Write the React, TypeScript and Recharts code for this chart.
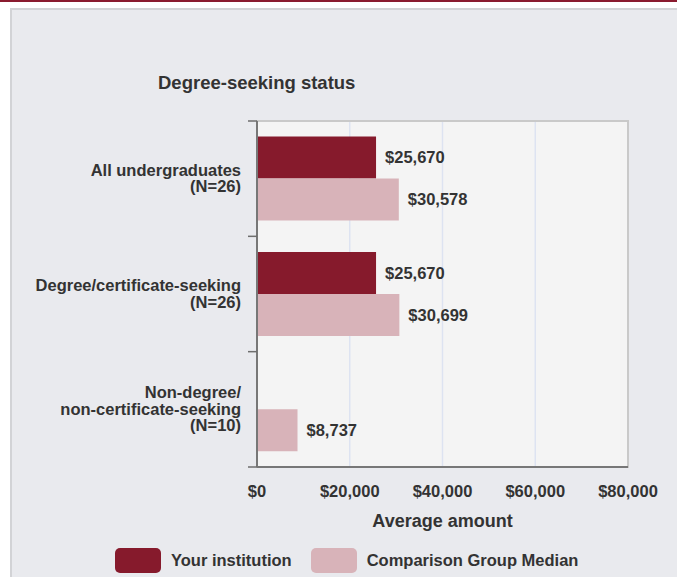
import { BarChart, Bar, XAxis, YAxis, CartesianGrid, LabelList, ReferenceArea } from "recharts";

const categories = ["All undergraduates", "Degree/certificate-seeking", "Non-degree/\nnon-certificate-seeking"];
const groupSizes = [26, 26, 10];
const yourInstitution = [25670, 25670, null];
const comparisonMedian = [30578, 30699, 8737];
const xTicks = [0, 20000, 40000, 60000, 80000];

const DARK = "#861a2c";
const PINK = "#d8b3b9";
const TEXT = "#333333";
const FONT = '"Liberation Sans", Arial, Helvetica, sans-serif';
const FS = 16.5;
const LINE = 16.5;

const legendItems = [
  { name: "Your institution", color: DARK },
  { name: "Comparison Group Median", color: PINK },
];

const data = categories.map((c, i) => ({
  label: `${c}\n(N=${groupSizes[i]})`,
  yours: yourInstitution[i],
  median: comparisonMedian[i],
}));

const money = (v: any) => (v == null ? "" : `$${Number(v).toLocaleString("en-US")}`);

function CategoryTick(props: any) {
  const { x, y, payload, index, visibleTicksCount } = props;
  const lines = String(payload.value).split("\n");
  const half = payload.offset ?? 0;
  const edge = x + 16;
  const last = (visibleTicksCount ?? data.length) - 1;
  return (
    <g>
      <line x1={edge - 9} x2={edge} y1={y - half} y2={y - half} stroke="#6e6e6e" strokeWidth={1.5} />
      {index === last && (
        <line x1={edge - 9} x2={edge} y1={y + half} y2={y + half} stroke="#6e6e6e" strokeWidth={1.5} />
      )}
      <text x={x} y={y} textAnchor="end" fill={TEXT} fontSize={FS} fontWeight={700}>
        {lines.map((l, i) => (
          <tspan key={i} x={x} dy={i === 0 ? -((lines.length - 1) / 2) * LINE + 5.5 : LINE}>
            {l}
          </tspan>
        ))}
      </text>
    </g>
  );
}

export default function App() {
  return (
    <div style={{ position: "relative", width: 677, height: 577, overflow: "hidden", fontFamily: FONT, background: "#fff" }}>
      <style>{`body{margin:0;}`}</style>
      <div style={{ position: "absolute", left: 0, top: 0, width: 677, height: 2, background: "#8a1b2f" }} />
      <div
        style={{
          position: "absolute",
          left: 10,
          top: 8,
          width: 700,
          height: 600,
          background: "#e9eaee",
          borderLeft: "2px solid #d2d3d6",
          borderTop: "2px solid #d2d3d6",
        }}
      />
      <div
        style={{
          position: "absolute",
          left: 158,
          top: 74,
          fontSize: 18.5,
          lineHeight: "18px",
          fontWeight: 700,
          color: TEXT,
          whiteSpace: "nowrap",
        }}
      >
        Degree-seeking status
      </div>
      <div style={{ position: "absolute", left: 0, top: 0 }}>
        <BarChart
          width={677}
          height={577}
          data={data}
          layout="vertical"
          margin={{ top: 121, right: 49, bottom: 50, left: 0 }}
          barCategoryGap="13.5%"
          barGap={0}
        >
          <CartesianGrid horizontal={false} stroke="#dde3f1" strokeWidth={1.5} fill="#f4f4f4" />
          <ReferenceArea x1={0} x2={80000} fill="none" stroke="#c9c9c9" strokeWidth={2} />
          <XAxis
            type="number"
            domain={[0, 80000]}
            ticks={xTicks}
            tickFormatter={money}
            tickLine={false}
            tickSize={0}
            tickMargin={18}
            axisLine={{ stroke: "#777", strokeWidth: 2 }}
            tick={{ fill: TEXT, fontSize: FS, fontWeight: 700 }}
            height={60}
            label={{ value: "Average amount", position: "insideBottom", offset: 0, fill: TEXT, fontSize: 18, fontWeight: 700 }}
          />
          <YAxis
            type="category"
            dataKey="label"
            width={257}
            tickLine={false}
            tickSize={0}
            tickMargin={16}
            axisLine={{ stroke: "#777", strokeWidth: 2 }}
            tick={<CategoryTick />}
            interval={0}
          />
          <Bar dataKey="yours" fill={DARK} isAnimationActive={false}>
            <LabelList dataKey="yours" position="right" offset={9} formatter={money} fill={TEXT} fontSize={FS} fontWeight={700} />
          </Bar>
          <Bar dataKey="median" fill={PINK} isAnimationActive={false}>
            <LabelList dataKey="median" position="right" offset={9} formatter={money} fill={TEXT} fontSize={FS} fontWeight={700} />
          </Bar>
        </BarChart>
      </div>
      <div style={{ position: "absolute", left: 115, top: 548, display: "flex", alignItems: "center" }}>
        {legendItems.map((it, i) => (
          <div key={it.name} style={{ display: "flex", alignItems: "center", marginRight: i === 0 ? 19 : 0 }}>
            <div style={{ width: 46, height: 25, borderRadius: 5, background: it.color }} />
            <span style={{ marginLeft: 10, fontSize: FS, fontWeight: 700, color: TEXT, whiteSpace: "nowrap" }}>{it.name}</span>
          </div>
        ))}
      </div>
    </div>
  );
}
